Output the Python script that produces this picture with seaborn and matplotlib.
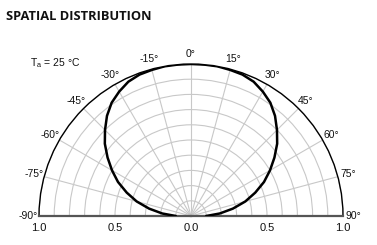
import numpy as np
import pandas as pd
import matplotlib
matplotlib.use("Agg")
import matplotlib.pyplot as plt
import seaborn as sns
from matplotlib.transforms import offset_copy

# ---- data ----
angles_deg = [-90, -85, -80, -75, -70, -65, -60, -55, -50, -45, -40, -35, -30, -25, -20, -15, -10, -5,
              0, 5, 10, 15, 20, 25, 30, 35, 40, 45, 50, 55, 60, 65, 70, 75, 80, 85, 90]
intensity = [0.10, 0.19, 0.28, 0.37, 0.45, 0.53, 0.60, 0.67, 0.74, 0.80, 0.86, 0.91, 0.945, 0.975, 0.99, 0.995, 1.0, 1.0,
             1.0, 1.0, 1.0, 0.995, 0.99, 0.975, 0.945, 0.91, 0.86, 0.80, 0.74, 0.67, 0.60, 0.53, 0.45, 0.37, 0.28, 0.19, 0.10]
theta_ticks = [-90, -75, -60, -45, -30, -15, 0, 15, 30, 45, 60, 75, 90]
theta_labels = ["-90°", "-75°", "-60°", "-45°", "-30°", "-15°", "0°", "15°", "30°", "45°", "60°", "75°", "90°"]
r_grid = [0.1, 0.2, 0.3, 0.4, 0.5, 0.6, 0.7, 0.8, 0.9, 1.0]
r_label_theta = [-90, -90, 0, 90, 90]
r_label_r = [1.0, 0.5, 0.0, 0.5, 1.0]
r_label_text = ["1.0", "0.5", "0.0", "0.5", "1.0"]

df = pd.DataFrame({"theta": np.deg2rad(angles_deg), "rel": intensity})

sns.set_theme(style="white")
plt.rcParams["font.family"] = ["Liberation Sans", "DejaVu Sans"]

W, H = 377, 245
fig = plt.figure(figsize=(W / 100, H / 100), dpi=100)
R, cx, cy = 152, 191, 216
bottom_px = (H - cy) - R / 2
ax = fig.add_axes([(cx - R) / W, bottom_px / H, 2 * R / W, 2 * R / H], projection="polar")
ax.set_theta_zero_location("N")
ax.set_theta_direction(-1)
ax.set_thetamin(-90)
ax.set_thetamax(90)
ax.set_ylim(0, 1.0)

sns.lineplot(data=df, x="theta", y="rel", ax=ax, sort=False, estimator=None,
             color="black", linewidth=1.8, zorder=5)

ax.set_rticks(r_grid)
ax.set_yticklabels([])
ax.set_thetagrids(theta_ticks, theta_labels)
ax.tick_params(axis="x", pad=-5.5, labelsize=7.5, colors="#111111")
ax.grid(True, color="#c8c8c8", linewidth=0.8)
ax.set_xlabel("")
ax.set_ylabel("")

ax.spines["polar"].set_color("black")
ax.spines["polar"].set_linewidth(1.0)
for s in ("start", "end"):
    ax.spines[s].set_color("#555555")
    ax.spines[s].set_linewidth(1.6)

trans = offset_copy(ax.transData, fig=fig, y=-7, units="dots")
for th, rr, tx in zip(r_label_theta, r_label_r, r_label_text):
    ax.text(np.deg2rad(th), rr, tx, transform=trans, ha="center", va="top",
            fontsize=8, color="#111111", clip_on=False)

fig.text(6 / W, 1 - 17 / H, "SPATIAL DISTRIBUTION", fontsize=9.3, fontweight="bold",
         family=["Open Sans", "DejaVu Sans"], va="center", ha="left", color="#111111")
fig.text(30 / W, 1 - 63 / H, r"T$_\mathregular{a}$ = 25 °C", fontsize=7.5,
         va="center", ha="left", color="#111111")

fig.savefig("out.png", dpi=100)
